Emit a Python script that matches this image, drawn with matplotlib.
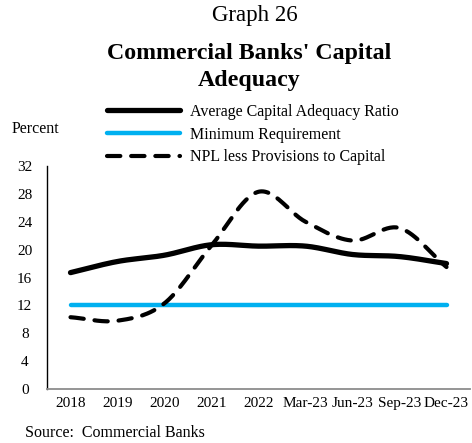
import numpy as np
import matplotlib
matplotlib.use("Agg")
import matplotlib.pyplot as plt
from matplotlib.lines import Line2D

plt.rcParams['font.family'] = ['Liberation Serif', 'DejaVu Serif']

categories = ["2018", "2019", "2020", "2021", "2022", "Mar-23", "Jun-23", "Sep-23", "Dec-23"]
avg_car = [16.7, 18.3, 19.2, 20.7, 20.5, 20.5, 19.3, 19.0, 18.0]
min_req = [12, 12, 12, 12, 12, 12, 12, 12, 12]
npl_to_capital = [10.3, 9.8, 12.3, 20.6, 28.3, 24.0, 21.3, 23.1, 17.5]
yticks = [0, 4, 8, 12, 16, 20, 24, 28, 32]


def smooth(xv, yv, n=30):
    """Catmull-Rom curve through the points, like a smoothed spreadsheet line."""
    xv = np.asarray(xv, float)
    yv = np.asarray(yv, float)
    px = np.concatenate([[2 * xv[0] - xv[1]], xv, [2 * xv[-1] - xv[-2]]])
    py = np.concatenate([[2 * yv[0] - yv[1]], yv, [2 * yv[-1] - yv[-2]]])
    ox, oy = [], []
    t = np.linspace(0, 1, n, endpoint=False)
    for i in range(1, len(px) - 2):
        for arr, out in ((px, ox), (py, oy)):
            p0, p1, p2, p3 = arr[i - 1], arr[i], arr[i + 1], arr[i + 2]
            seg = 0.5 * ((2 * p1) + (-p0 + p2) * t
                         + (2 * p0 - 5 * p1 + 4 * p2 - p3) * t ** 2
                         + (-p0 + 3 * p1 - 3 * p2 + p3) * t ** 3)
            out.extend(seg)
    ox.append(xv[-1])
    oy.append(yv[-1])
    return np.array(ox), np.array(oy)


fig = plt.figure(figsize=(4.72, 4.43), dpi=100)
ax = fig.add_axes([47 / 472, 1 - 389 / 443, (470 - 47) / 472, (389 - 166) / 443])

x = np.arange(len(categories))
blue = "#00B0F0"

ax.plot(x, min_req, color=blue, lw=3.2, solid_capstyle='round')
sx, sy = smooth(x, avg_car)
ax.plot(sx, sy, color="black", lw=3.8, solid_capstyle='round')
sx, sy = smooth(x, npl_to_capital)
ax.plot(sx, sy, color="black", lw=3.0, dashes=(3.2, 2.6), dash_capstyle='round')

ax.set_xlim(-0.5, len(categories) - 0.5)
ax.set_ylim(0, 32)
ax.set_yticks(yticks)
ax.set_xticks(x)
ax.set_xticklabels(categories)
ax.tick_params(axis='both', length=0, labelsize=11, pad=6)
ax.tick_params(axis='y', pad=16)
for lbl in ax.get_yticklabels():
    lbl.set_horizontalalignment('center')
for s in ("top", "right"):
    ax.spines[s].set_visible(False)
ax.spines["left"].set_color("black")
ax.spines["left"].set_linewidth(1.0)
ax.spines["bottom"].set_color("#8c8c8c")
ax.spines["bottom"].set_linewidth(1.3)

handles = [
    Line2D([], [], color="black", lw=3.8, solid_capstyle='round'),
    Line2D([], [], color=blue, lw=3.2, solid_capstyle='round'),
    Line2D([], [], color="black", lw=3.0, dashes=(3.2, 2.6), dash_capstyle='round'),
]
labels = ["Average Capital Adequacy Ratio", "Minimum Requirement", "NPL less Provisions to Capital"]
fig.legend(handles, labels, loc="upper left", bbox_to_anchor=(107 / 472, 1 - 104 / 443),
           frameon=False, fontsize=11.5, handlelength=4.6, handletextpad=0.6,
           labelspacing=0.42, borderpad=0, borderaxespad=0)

fig.text(255 / 472, 1 - 16 / 443, "Graph 26", ha="center", va="center", fontsize=16.5)
fig.text(249 / 472, 1 - 67 / 443, "Commercial Banks' Capital\nAdequacy", ha="center", va="center",
         fontsize=17.2, fontweight="bold", linespacing=1.4)
fig.text(12 / 472, 1 - 129 / 443, "Percent", ha="left", va="center", fontsize=11.5)
fig.text(25 / 472, 1 - 433 / 443, "Source:  Commercial Banks", ha="left", va="center", fontsize=11.5)

fig.savefig("out.png", dpi=100)
